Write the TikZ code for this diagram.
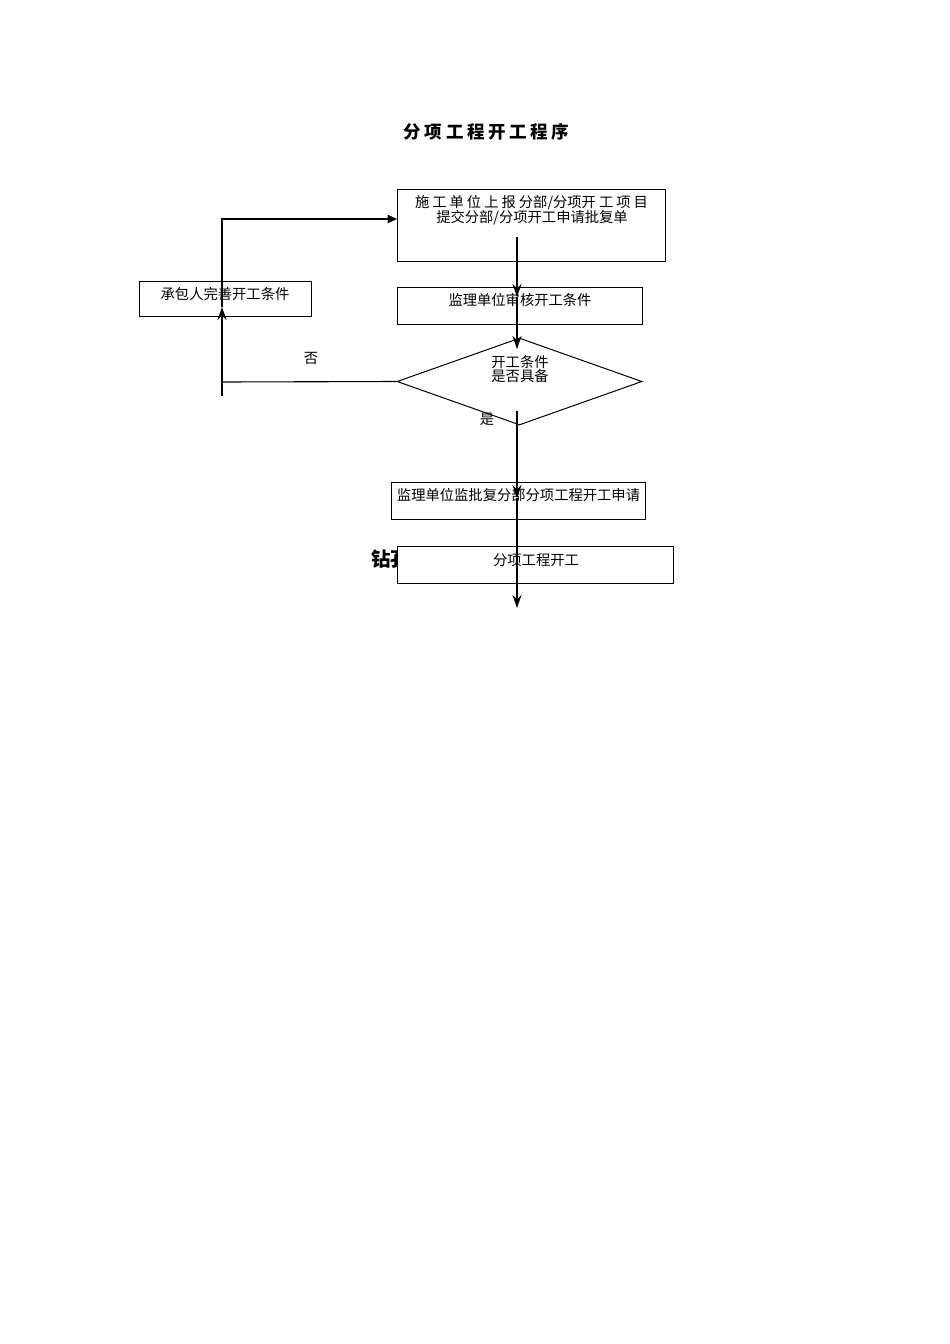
\documentclass[tikz,border=0pt]{standalone}
\usepackage{fontspec}
\setmainfont{Noto Sans CJK SC}
\usetikzlibrary{arrows.meta,shapes.geometric}
\begin{document}
\begin{tikzpicture}[x=1pt,y=-1pt,
  box/.style={draw,line width=1pt,fill=white,inner sep=0pt},
  txt/.style={inner sep=0pt,font=\fontsize{14.3}{16}\selectfont},
  flow/.style={line width=1.1pt},
  downarrow/.style={flow,-{Stealth[length=13pt,width=9pt,inset=4.5pt]}},
  tri/.style={flow,-{Triangle[length=9.5pt,width=8.5pt]}}]
\useasboundingbox[fill=white] (0,0) rectangle (950,1344);
% title
\node[inner sep=0pt,font=\fontsize{17.5}{19}\selectfont\bfseries] (title) at (486.5,132) {分\hspace{3.6pt}项\hspace{3.6pt}工\hspace{3.6pt}程\hspace{3.6pt}开\hspace{3.6pt}工\hspace{3.6pt}程\hspace{3.6pt}序};
% hidden heading behind last box
\node[inner sep=0pt,anchor=west,font=\fontsize{19.5}{21}\selectfont\bfseries] (hidden) at (371,559) {钻孔};
% boxes
\node[box,minimum width=268pt,minimum height=72pt] (b1) at (531,225) {};
\node[txt] (b1t1) at (531.5,203) {\makebox[233pt][s]{施\hfill 工\hfill 单\hfill 位\hfill 上\hfill 报\hfill 分部/分项开\hfill 工\hfill 项\hfill 目}};
\node[txt] (b1t2) at (532,218) {提交分部/分项开工申请批复单};
\node[box,minimum width=172pt,minimum height=35pt] (left) at (225,298.5) {};
\node[txt] (leftt) at (225,294) {承包人完善开工条件};
\node[box,minimum width=245pt,minimum height=37pt] (b2) at (519.5,305.5) {};
\node[txt] (b2t) at (520,300) {监理单位审核开工条件};
\node[draw,line width=1pt,fill=white,diamond,inner sep=0pt,minimum width=245pt,minimum height=87pt] (d) at (519.5,381.5) {};
\node[txt] (dt1) at (520,362) {开工条件};
\node[txt] (dt2) at (520,376) {是否具备};
\node[box,minimum width=254pt,minimum height=37pt] (b3) at (518,500.5) {};
\node[txt] (b3t) at (518.5,495) {监理单位监批复分部分项工程开工申请};
\node[box,minimum width=276pt,minimum height=37pt] (b4) at (535,564.5) {};
\node[txt] (b4t) at (536,560) {分项工程开工};
% labels
\node[txt] (no) at (311,358) {否};
\node[txt] (yes) at (487,419) {是};
% coordinates
\coordinate (m0) at (517,237);
\coordinate (m1) at (517,297);
\coordinate (m2) at (517,349);
\coordinate (m3) at (517,411);
\coordinate (m4) at (517,498);
\coordinate (m5) at (517,608);
\coordinate (lc) at (222,382);
\coordinate (lb) at (222,396);
\coordinate (la) at (222,307);
\coordinate (lt) at (222,219);
\coordinate (rt) at (397,219);
% main flow
\draw[downarrow] (m0) -- (m1);
\draw[downarrow] (m1) -- (m2);
\draw[downarrow] (m3) -- (m4);
\draw[downarrow] (m4) -- (m5);
% loop back
\draw[flow] (d.west) -- (lc);
\draw[downarrow] (lb) -- (la);
\draw[tri] (la) -- (lt) -- (rt);
\end{tikzpicture}
\end{document}
